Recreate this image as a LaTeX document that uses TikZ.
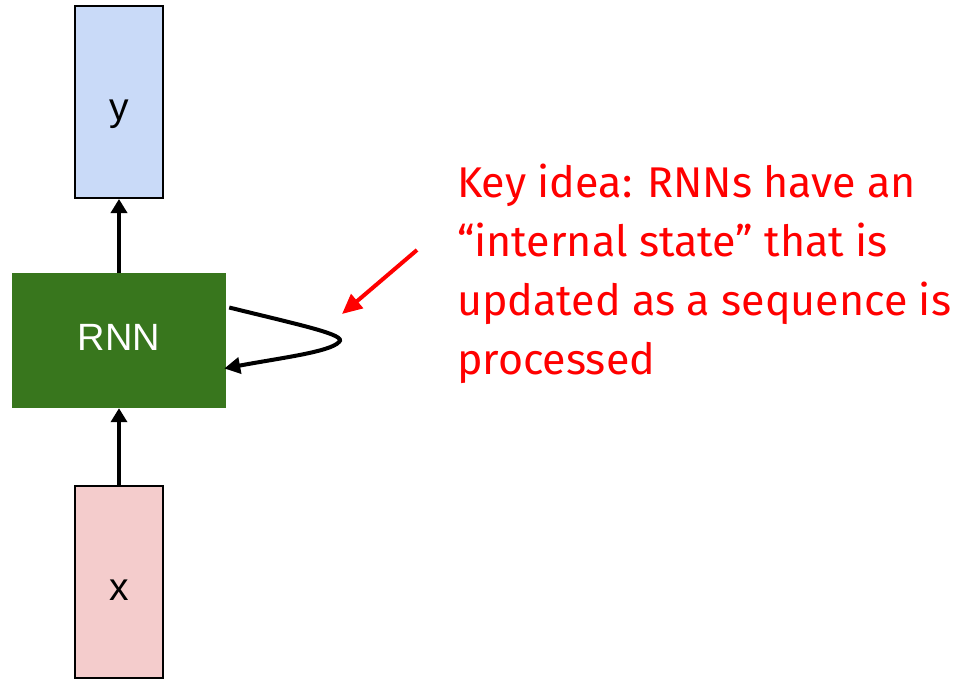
\documentclass[tikz,border=0pt]{standalone}
\usepackage{fontspec}
\setmainfont{Liberation Sans}
\newfontfamily\notefont{Fira Sans}
\usetikzlibrary{arrows.meta}
\definecolor{yblue}{HTML}{C9DAF8}
\definecolor{xpink}{HTML}{F4CCCC}
\definecolor{rnngreen}{HTML}{38761D}
\definecolor{notered}{HTML}{FF0000}
\begin{document}
\begin{tikzpicture}[x=1pt,y=-1pt,
  iobox/.style={draw=black,line width=2pt,minimum width=88pt,minimum height=192pt,inner sep=0pt,text height=36pt,text depth=0pt,font=\fontsize{39}{44}\selectfont},
  rnnbox/.style={fill=rnngreen,minimum width=214pt,minimum height=135pt,inner sep=0pt,text height=19pt,text depth=0pt,text=white,font=\fontsize{38}{44}\selectfont},
  flow/.style={line width=4pt,-{Triangle[length=14pt,width=16pt]}},
  note/.style={text=notered,align=left,anchor=north west,inner sep=0pt,font=\notefont\fontsize{43}{59}\selectfont}]
\useasboundingbox (0,0) rectangle (970,680);
\node[iobox,fill=yblue] (y) at (119,102) {y};
\node[rnnbox] (rnn) at (119,340.5) {RNN};
\node[iobox,fill=xpink] (x) at (119,582) {x};
\draw[flow] (rnn.north) -- (y.south);
\draw[flow] (x.north) -- (rnn.south);
\coordinate (tip) at (339,342);
\draw[line width=4pt,-{Triangle[length=16pt,width=16pt]}] ([xshift=3pt,yshift=33pt]rnn.east) .. controls (300,325) and (348,335) .. (tip) .. controls (330,352) and (280,358) .. ([xshift=-2pt,yshift=-28pt]rnn.east);
\node[note] (txt) at (457,164) {Key idea: RNNs have an\\“internal state” that is\\updated as a sequence is\\processed};
\coordinate (rtail) at (417,250);
\coordinate (rhead) at (342,314);
\draw[notered,line width=4pt,-{Triangle[length=20pt,width=18pt]}] (rtail) -- (rhead);
\end{tikzpicture}
\end{document}
